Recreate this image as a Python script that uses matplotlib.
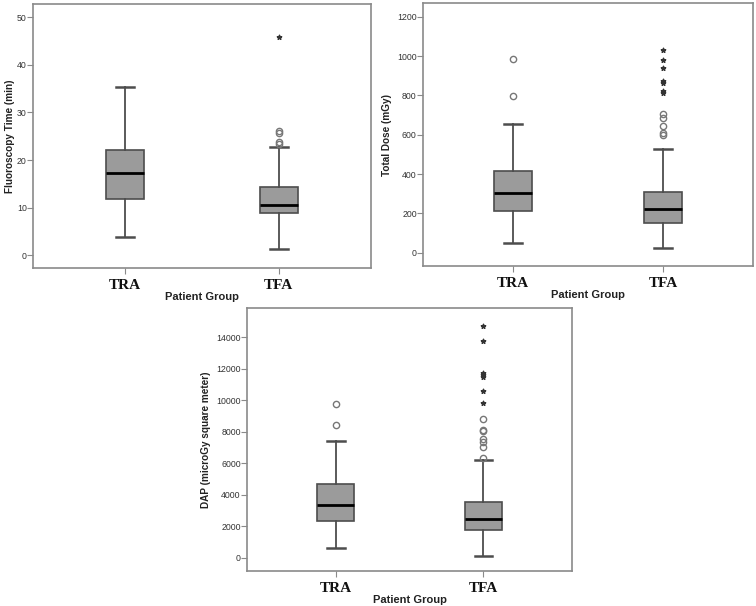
import matplotlib
matplotlib.use("Agg")
import matplotlib.pyplot as plt

groups = ["TRA", "TFA"]

# Fluoroscopy time (min): box stats
fluoro_q1 = [11.8, 8.8]
fluoro_med = [17.2, 10.5]
fluoro_q3 = [22.1, 14.3]
fluoro_lo = [3.9, 1.3]
fluoro_hi = [35.3, 22.7]
fluoro_circles = [[], [23.3, 23.7, 25.6, 26.1]]
fluoro_stars = [[], [45.8]]

# Total dose (mGy)
dose_q1 = [210, 151]
dose_med = [302, 222]
dose_q3 = [414, 307]
dose_lo = [51, 24]
dose_hi = [654, 527]
dose_circles = [[797, 986], [597, 607, 644, 683, 704]]
dose_stars = [[], [812, 822, 865, 872, 937, 978, 1029]]

# DAP (microGy square meter)
dap_q1 = [2333, 1740]
dap_med = [3330, 2460]
dap_q3 = [4664, 3540]
dap_lo = [615, 110]
dap_hi = [7400, 6230]
dap_circles = [[8440, 9775], [6360, 7040, 7340, 7550, 8060, 8140, 8780]]
dap_stars = [[], [9840, 10580, 11500, 11600, 11750, 13770, 14740]]

BOX = "#9b9b9b"
EDGE = "#4d4d4d"
FRAME = "#8a8a8a"

W, H = 756, 606
fig = plt.figure(figsize=(W / 100, H / 100), dpi=100)


def panel(px, q1, med, q3, lo, hi, circles, stars, ylim, yticks, ylabel, lpad):
    left, top, right, bottom = px
    ax = fig.add_axes([left / W, 1 - bottom / H, (right - left) / W, (bottom - top) / H])
    stats = []
    for i in range(2):
        stats.append(dict(med=med[i], q1=q1[i], q3=q3[i], whislo=lo[i], whishi=hi[i],
                          fliers=circles[i]))
    ax.bxp(stats, positions=[1, 2], widths=0.25, patch_artist=True,
           boxprops=dict(facecolor=BOX, edgecolor=EDGE, linewidth=1.2),
           medianprops=dict(color="black", linewidth=2),
           whiskerprops=dict(color=EDGE, linewidth=1.3),
           capprops=dict(color=EDGE, linewidth=1.8),
           capwidths=0.12,
           flierprops=dict(marker="o", markersize=4.5, markerfacecolor="none",
                           markeredgecolor="#777777", markeredgewidth=1.0))
    for i in range(2):
        if stars[i]:
            ax.scatter([i + 1] * len(stars[i]), stars[i], marker="*", s=11,
                       color="#333333", zorder=3)
    ax.set_xlim(0.4, 2.6)
    ax.set_ylim(*ylim)
    ax.set_yticks(yticks)
    ax.set_xticks([1, 2])
    ax.set_xticklabels(groups, fontfamily="Liberation Serif", fontweight="bold",
                       fontsize=11, color="#111111")
    ax.tick_params(axis="y", labelsize=6.3, colors="#333333", length=4, color=FRAME, pad=0.5)
    ax.tick_params(axis="x", length=4, color=FRAME, pad=4)
    for sp in ax.spines.values():
        sp.set_color(FRAME)
        sp.set_linewidth(1.2)
    ax.set_ylabel(ylabel, fontsize=7.2, fontweight="bold", color="#222222", labelpad=lpad)
    ax.set_xlabel("Patient Group", fontsize=8, fontweight="bold", color="#222222", labelpad=0)
    return ax


plt.rcParams["font.family"] = ["Liberation Sans", "DejaVu Sans"]

panel((33, 4, 371, 268), fluoro_q1, fluoro_med, fluoro_q3, fluoro_lo, fluoro_hi,
      fluoro_circles, fluoro_stars, (-2.7, 52.8), range(0, 51, 10),
      "Fluoroscopy Time (min)", 1.5)
panel((423, 3, 753, 266), dose_q1, dose_med, dose_q3, dose_lo, dose_hi,
      dose_circles, dose_stars, (-68, 1270), range(0, 1201, 200),
      "Total Dose (mGy)", 4)
panel((247, 308, 572, 571), dap_q1, dap_med, dap_q3, dap_lo, dap_hi,
      dap_circles, dap_stars, (-850, 15860), range(0, 14001, 2000),
      "DAP (microGy square meter)", 4)

fig.savefig("out.png", dpi=100, facecolor="white")
